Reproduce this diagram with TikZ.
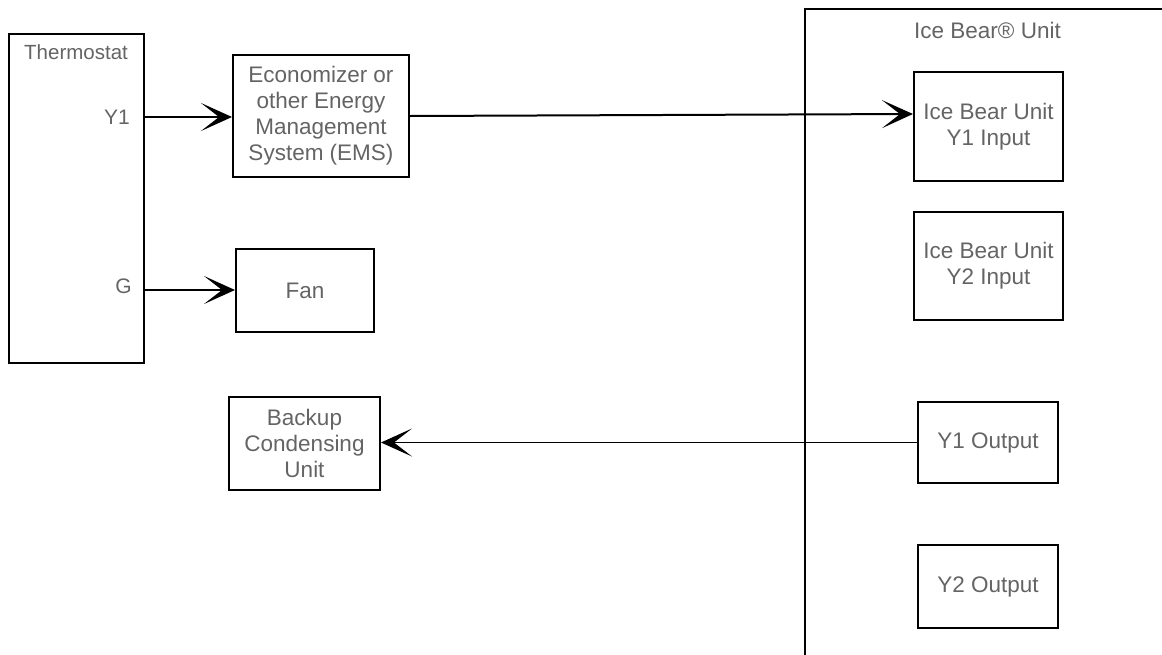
\documentclass[tikz,border=0pt]{standalone}
\usepackage{fontspec}
\setmainfont{Liberation Sans}
\usetikzlibrary{arrows.meta}
\definecolor{txt}{RGB}{100,100,100}
\tikzset{
  box/.style={draw=black, line width=2pt, rectangle, inner sep=0pt, align=center, text=txt,
    font=\fontsize{22.5pt}{26pt}\selectfont},
  lbl/.style={text=txt, inner sep=0pt, font=\fontsize{21pt}{26pt}\selectfont},
  conn/.style={line width=2pt, -{Stealth[length=31pt,width=28pt,inset=18pt]}},
}
\begin{document}
\begin{tikzpicture}[x=1pt,y=-1pt]
\useasboundingbox (0,0) rectangle (1162,654);
% Ice Bear unit outer frame
\draw[line width=2pt] (1163,9) -- (805,9) -- (805,655);
\node[lbl, font=\fontsize{22.5pt}{26pt}\selectfont] (icebear) at (987.5,30) {Ice Bear® Unit};

\node[box, minimum width=135pt, minimum height=329pt] (thermo) at (76.5,198.5) {};
\node[lbl, anchor=west, font=\fontsize{20.5pt}{26pt}\selectfont] (thermolbl) at (24,52) {Thermostat};
\node[lbl, anchor=east] (y1lbl) at (130,117) {Y1};
\node[lbl, anchor=east] (glbl) at (132,286) {G};

\node[box, minimum width=176pt, minimum height=122pt] (ems) at (321,116) {Economizer or\\other Energy\\Management\\System (EMS)};
\node[box, minimum width=138pt, minimum height=83pt] (fan) at (305,290.5) {Fan};
\node[box, minimum width=151pt, minimum height=93pt] (backup) at (304.5,443.5) {Backup\\Condensing\\Unit};

\node[box, minimum width=149pt, minimum height=109pt] (y1in) at (988.5,126.5) {Ice Bear Unit\\Y1 Input};
\node[box, minimum width=149pt, minimum height=108pt] (y2in) at (988.5,266) {Ice Bear Unit\\Y2 Input};
\node[box, minimum width=140pt, minimum height=81pt] (y1out) at (988,442.5) {Y1 Output};
\node[box, minimum width=140pt, minimum height=83pt] (y2out) at (988,586.5) {Y2 Output};

\coordinate (ty1) at (144,117);
\coordinate (tg) at (144,290);
\draw[conn] (ty1) -- (ems.west |- ty1);
\draw[conn] (tg) -- (fan.west |- tg);
\draw[conn] (ems.east) -- ([yshift=12.5pt]y1in.west);
\draw[conn, line width=1.5pt] (y1out.west) -- (backup.east |- y1out.west);
\end{tikzpicture}
\end{document}
